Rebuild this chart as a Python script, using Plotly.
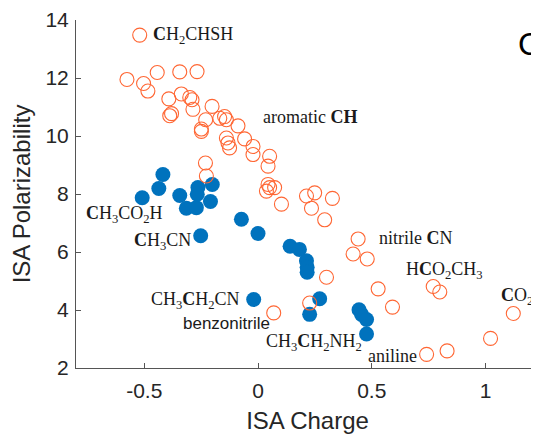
import plotly.graph_objects as go

# Open orange circles (ISA charge, ISA polarizability)
orange_x = [-0.520, -0.576, -0.443, -0.344, -0.268, -0.503, -0.484, -0.392, -0.337, -0.300,
            -0.290, -0.286, -0.388, -0.380, -0.202, -0.230, -0.249, -0.249, -0.168, -0.147,
            -0.139, -0.088, -0.139, -0.132, -0.125, -0.059, -0.022, -0.022, -0.231, -0.227,
            0.051, 0.044, 0.044, 0.051, 0.073, 0.037, 0.103, 0.213, 0.249, 0.235,
            0.327, 0.293, 0.440, 0.418, 0.480, 0.301, 0.528, 0.591, 0.770, 0.799,
            0.227, 0.069, 1.122, 1.022, 0.741, 0.831]
orange_y = [13.48, 11.95, 12.19, 12.21, 12.22, 11.81, 11.55, 11.28, 11.45, 11.33,
            11.25, 10.92, 10.70, 10.77, 11.02, 10.56, 10.24, 10.16, 10.61, 10.67,
            10.56, 10.35, 9.93, 9.76, 9.59, 9.90, 9.64, 9.36, 9.07, 8.62,
            9.30, 8.96, 8.33, 8.22, 8.22, 8.10, 7.65, 7.93, 8.04, 7.51,
            7.85, 7.11, 6.45, 5.93, 5.76, 5.13, 4.73, 4.10, 4.81, 4.62,
            4.24, 3.90, 3.88, 3.02, 2.47, 2.59]

# Filled blue circles
blue_x = [-0.418, -0.436, -0.509, -0.344, -0.264, -0.267, -0.201, -0.315, -0.271, -0.209,
          -0.252, -0.073, 0.000, 0.141, 0.182, 0.213, 0.216, 0.216, 0.271, 0.227,
          0.444, 0.455, 0.477, 0.477, -0.019]
blue_y = [8.67, 8.19, 7.87, 7.95, 8.22, 7.99, 8.33, 7.51, 7.53, 7.74,
          6.56, 7.13, 6.64, 6.20, 6.09, 5.70, 5.47, 5.30, 4.39, 3.85,
          4.01, 3.85, 3.67, 3.17, 4.36]

# Text labels
label_text = ["<b>C</b>H<sub>2</sub>CHSH", "aromatic <b>CH</b>", "<b>C</b>H<sub>3</sub>CO<sub>2</sub>H",
              "<b>C</b>H<sub>3</sub>CN", "nitrile <b>C</b>N", "H<b>C</b>O<sub>2</sub>CH<sub>3</sub>",
              "<b>C</b>O<sub>2</sub>", "CH<sub>3</sub><b>C</b>H<sub>2</sub>CN",
              "CH<sub>3</sub><b>C</b>H<sub>2</sub>NH<sub>2</sub>", "aniline"]
label_x = [-0.468, 0.016, -0.759, -0.551, 0.527, 0.645, 1.063, -0.476, 0.029, 0.479]
label_y = [13.48, 10.64, 7.31, 6.35, 6.49, 5.36, 4.47, 4.33, 2.89, 2.41]

sans_label = "benzonitrile"
sans_label_x = -0.336
sans_label_y = 3.54

panel_label = "C"

x_ticks = [-0.5, 0, 0.5, 1]
x_ticktext = ["-0.5", "0", "0.5", "1"]
y_ticks = [2, 4, 6, 8, 10, 12, 14]

fig = go.Figure()
fig.add_trace(go.Scatter(
    x=blue_x, y=blue_y, mode="markers",
    marker=dict(size=15, color="#0072BD", line=dict(width=0)),
    showlegend=False, hoverinfo="skip"))
fig.add_trace(go.Scatter(
    x=orange_x, y=orange_y, mode="markers",
    marker=dict(size=14, color="#FF6633", symbol="circle-open",
                line=dict(width=1.1, color="#FF6633")),
    showlegend=False, hoverinfo="skip"))

for t, lx, ly in zip(label_text, label_x, label_y):
    fig.add_annotation(x=lx, y=ly, text=t, showarrow=False, xanchor="left", yanchor="middle",
                       font=dict(family="Liberation Serif", size=18, color="#1a1a1a"),
                       borderpad=0)
fig.add_annotation(x=sans_label_x, y=sans_label_y, text=sans_label, showarrow=False,
                   xanchor="left", yanchor="middle", borderpad=0,
                   font=dict(family="Liberation Sans", size=17, color="#1a1a1a"))
fig.add_annotation(x=(517 - 76) / 463, y=(368 - 42) / 350, xref="paper", yref="paper",
                   text=panel_label, showarrow=False, xanchor="left", yanchor="middle",
                   borderpad=0,
                   font=dict(family="Liberation Sans", size=32, color="#000000"))

fig.update_layout(
    width=531, height=426,
    margin=dict(l=68, r=0, t=10, b=66),
    paper_bgcolor="white", plot_bgcolor="white",
    font=dict(family="Liberation Sans", color="#262626"),
    xaxis=dict(range=[-0.8, 1.235], tickvals=x_ticks, ticktext=x_ticktext,
               ticks="inside", ticklen=5, tickcolor="#555", showline=True, linecolor="#555",
               linewidth=1, showgrid=False, zeroline=False, tickfont=dict(size=21),
               ticklabelstandoff=4, ticklabeloverflow="allow",
               title=dict(text="ISA Charge", font=dict(size=24), standoff=10)),
    yaxis=dict(range=[2, 14], tickvals=y_ticks, ticks="inside", ticklen=5, tickcolor="#555",
               showline=True, linecolor="#555", linewidth=1, showgrid=False, zeroline=False,
               tickfont=dict(size=21), ticklabelstandoff=2, ticklabeloverflow="allow",
               title=dict(text="ISA Polarizability", font=dict(size=24), standoff=8)),
)

fig.write_html("out.html")
